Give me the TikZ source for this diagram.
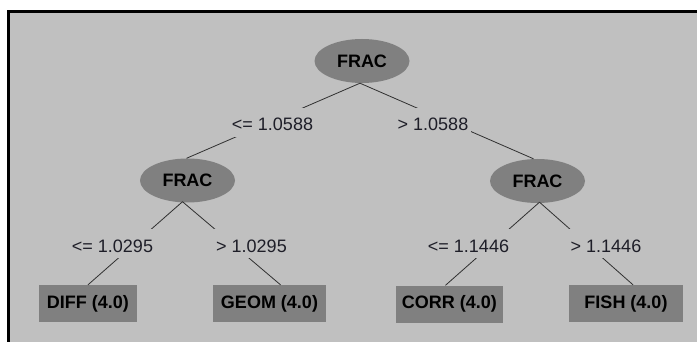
\documentclass[tikz,border=0pt]{standalone}
\usepackage{fontspec}
\setmainfont{Liberation Sans}
\usetikzlibrary{shapes.geometric}
\definecolor{bggray}{RGB}{192,192,192}
\definecolor{nodegray}{RGB}{128,128,128}
\definecolor{edgecol}{RGB}{48,48,48}
\definecolor{labcol}{RGB}{30,30,40}
\begin{document}
\begin{tikzpicture}[x=1pt,y=-1pt,
  splitnode/.style={ellipse,fill=nodegray,draw=none,minimum width=95pt,minimum height=44pt,inner sep=0pt,
    font=\fontsize{18}{20}\selectfont\bfseries,text=black},
  leafnode/.style={rectangle,fill=nodegray,draw=none,minimum height=37pt,inner sep=0pt,
    font=\fontsize{18}{20}\selectfont\bfseries,text=black},
  edgelabel/.style={rectangle,fill=bggray,anchor=base,inner xsep=3pt,inner ysep=0pt,
    text height=23pt,text depth=6pt,font=\fontsize{18}{20}\selectfont,text=labcol},
  edge/.style={draw=edgecol,line width=0.8pt}]
\useasboundingbox (0,0) rectangle (697,342);
% frame
\fill[white] (0,0) rectangle (697,342);
\fill[black] (7,10) rectangle (697,342);
\fill[bggray] (10,13) rectangle (697,342);
% nodes
\node[splitnode] (root) at (362,61) {FRAC};
\node[splitnode] (lc) at (187.5,180.5) {FRAC};
\node[splitnode] (rc) at (537.5,181) {FRAC};
\node[leafnode,minimum width=98pt] (diff) at (88,303.5) {DIFF (4.0)};
\node[leafnode,minimum width=113pt] (geom) at (269.5,303.5) {GEOM (4.0)};
\node[leafnode,minimum width=107pt] (corr) at (449.5,304) {CORR (4.0)};
\node[leafnode,minimum width=114pt] (fish) at (626,303.5) {FISH (4.0)};
% edges
\draw[edge] ([xshift=-2pt]root.south) -- ([xshift=-1pt]lc.north);
\draw[edge] ([xshift=-2pt]root.south) -- ([xshift=-4pt]rc.north);
\draw[edge] ([xshift=-5pt,yshift=1pt]lc.south) -- (diff.north);
\draw[edge] ([xshift=-5pt,yshift=1pt]lc.south) -- ([xshift=11pt]geom.north);
\draw[edge] ([xshift=2pt,yshift=1pt]rc.south) -- ([xshift=-4pt]corr.north);
\draw[edge] ([xshift=2pt,yshift=1pt]rc.south) -- ([xshift=7pt]fish.north);
% edge labels
\node[edgelabel] (l1) at (272.5,131) {<= 1.0588};
\node[edgelabel] (l2) at (433,131) {> 1.0588};
\node[edgelabel] (l3) at (112.5,252) {<= 1.0295};
\node[edgelabel] (l4) at (251.5,252) {> 1.0295};
\node[edgelabel] (l5) at (468.5,252) {<= 1.1446};
\node[edgelabel] (l6) at (606,252) {> 1.1446};
\end{tikzpicture}
\end{document}
